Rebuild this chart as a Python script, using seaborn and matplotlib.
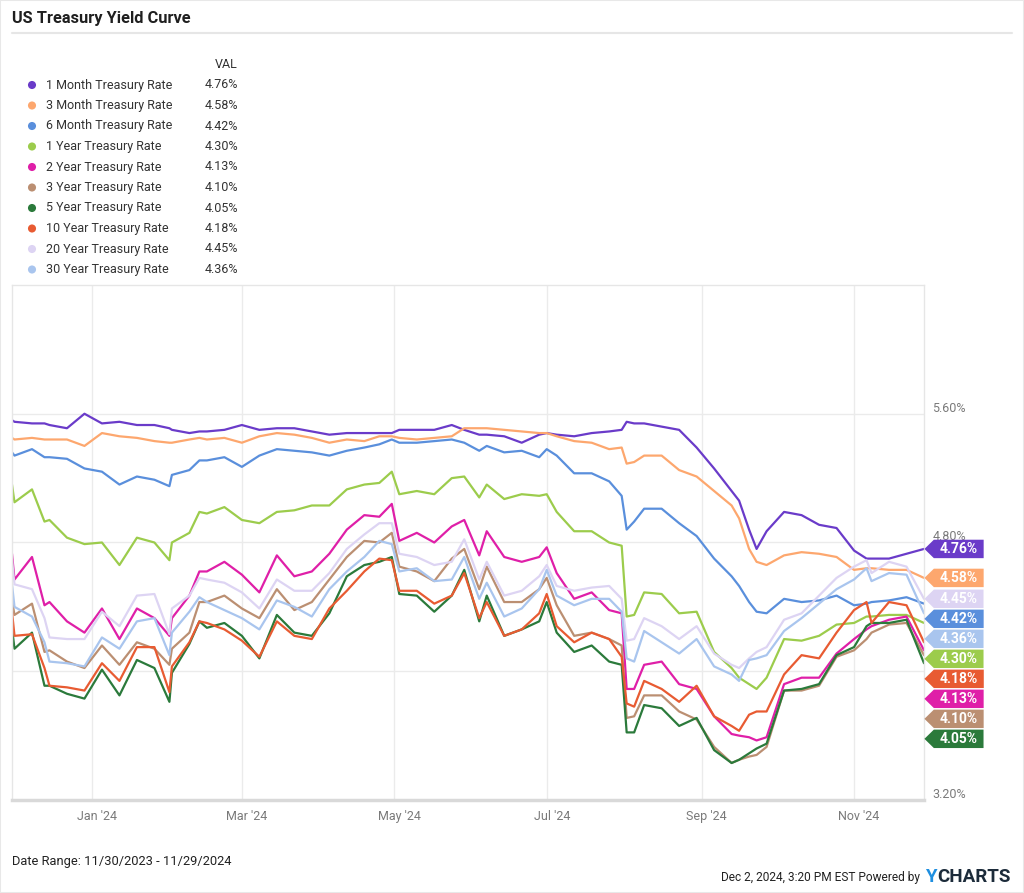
import matplotlib
matplotlib.use("Agg")
import numpy as np
import pandas as pd
import matplotlib.pyplot as plt
import matplotlib.dates as mdates
from matplotlib.transforms import ScaledTranslation, blended_transform_factory
from matplotlib.patches import Rectangle
from matplotlib.path import Path
import seaborn as sns

# ---------------- data ----------------
dates = ["2023-11-30", "2023-12-01", "2023-12-08", "2023-12-13", "2023-12-15", "2023-12-22", "2023-12-29",
         "2024-01-05", "2024-01-12", "2024-01-19", "2024-01-26",
         "2024-02-01", "2024-02-02", "2024-02-09", "2024-02-13", "2024-02-16", "2024-02-23",
         "2024-03-01", "2024-03-08", "2024-03-15", "2024-03-22", "2024-03-29",
         "2024-04-05", "2024-04-12", "2024-04-19", "2024-04-25", "2024-04-30",
         "2024-05-03", "2024-05-10", "2024-05-17", "2024-05-24", "2024-05-29",
         "2024-06-04", "2024-06-07", "2024-06-14", "2024-06-21", "2024-06-28",
         "2024-07-01", "2024-07-05", "2024-07-12", "2024-07-19", "2024-07-26", "2024-07-31",
         "2024-08-02", "2024-08-05", "2024-08-09", "2024-08-16", "2024-08-23", "2024-08-30",
         "2024-09-06", "2024-09-13", "2024-09-16", "2024-09-20", "2024-09-23", "2024-09-27",
         "2024-10-04", "2024-10-11", "2024-10-18", "2024-10-25",
         "2024-11-01", "2024-11-06", "2024-11-08", "2024-11-15", "2024-11-22", "2024-11-29"]

rate_1m = [5.56, 5.55, 5.54, 5.54, 5.53, 5.51, 5.60,
           5.54, 5.55, 5.53, 5.53,
           5.51, 5.50, 5.48, 5.49, 5.49, 5.50,
           5.53, 5.50, 5.51, 5.51, 5.49,
           5.47, 5.48, 5.48, 5.48, 5.48,
           5.50, 5.50, 5.50, 5.53, 5.50,
           5.47, 5.47, 5.46, 5.42, 5.47,
           5.48, 5.47, 5.46, 5.48, 5.49, 5.50,
           5.55, 5.54, 5.54, 5.52, 5.50, 5.39,
           5.26, 5.12, 5.06, 4.88, 4.76, 4.87,
           4.99, 4.97, 4.91, 4.89,
           4.75, 4.70, 4.70, 4.70, 4.73, 4.76]
rate_3m = [5.45, 5.44, 5.45, 5.44, 5.44, 5.44, 5.40,
           5.48, 5.46, 5.45, 5.43,
           5.42, 5.42, 5.44, 5.45, 5.44, 5.45,
           5.42, 5.46, 5.48, 5.47, 5.45,
           5.42, 5.44, 5.43, 5.46, 5.46,
           5.45, 5.44, 5.45, 5.46, 5.51,
           5.51, 5.51, 5.50, 5.49, 5.48,
           5.48, 5.46, 5.43, 5.42, 5.38, 5.39,
           5.29, 5.30, 5.34, 5.34, 5.25, 5.21,
           5.12, 5.03, 4.95, 4.76, 4.68, 4.66,
           4.72, 4.74, 4.73, 4.71,
           4.63, 4.64, 4.64, 4.63, 4.63, 4.58]
rate_6m = [5.36, 5.34, 5.38, 5.33, 5.33, 5.32, 5.26,
           5.24, 5.16, 5.21, 5.19,
           5.15, 5.22, 5.25, 5.31, 5.31, 5.33,
           5.27, 5.34, 5.38, 5.37, 5.36,
           5.34, 5.37, 5.39, 5.41, 5.44,
           5.42, 5.42, 5.43, 5.44, 5.42,
           5.37, 5.40, 5.36, 5.37, 5.33,
           5.38, 5.34, 5.23, 5.23, 5.18, 5.09,
           4.88, 4.93, 5.01, 5.01, 4.92, 4.84,
           4.70, 4.59, 4.53, 4.43, 4.37, 4.36,
           4.45, 4.43, 4.44, 4.47,
           4.41, 4.42, 4.43, 4.44, 4.46, 4.42]
rate_1y = [5.16, 5.05, 5.13, 4.93, 4.94, 4.83, 4.79,
           4.80, 4.66, 4.83, 4.80,
           4.69, 4.80, 4.86, 4.99, 4.98, 5.02,
           4.94, 4.92, 4.99, 5.00, 5.03,
           5.03, 5.13, 5.16, 5.17, 5.24,
           5.10, 5.12, 5.10, 5.20, 5.21,
           5.08, 5.16, 5.07, 5.10, 5.09,
           5.10, 4.99, 4.87, 4.87, 4.80, 4.78,
           4.34, 4.35, 4.49, 4.48, 4.36, 4.37,
           4.12, 4.02, 3.96, 3.92, 3.89, 3.96,
           4.20, 4.19, 4.22, 4.29,
           4.30, 4.34, 4.34, 4.35, 4.35, 4.30]
rate_2y = [4.73, 4.57, 4.71, 4.41, 4.43, 4.31, 4.24,
           4.39, 4.20, 4.39, 4.33,
           4.22, 4.33, 4.47, 4.62, 4.62, 4.68,
           4.60, 4.49, 4.72, 4.59, 4.62,
           4.73, 4.88, 4.97, 4.96, 5.04,
           4.81, 4.86, 4.80, 4.90, 4.94,
           4.72, 4.87, 4.71, 4.68, 4.71,
           4.77, 4.61, 4.45, 4.49, 4.38, 4.36,
           3.89, 3.89, 4.04, 4.06, 3.92, 3.89,
           3.72, 3.61, 3.60, 3.59, 3.57, 3.59,
           3.92, 3.96, 3.96, 4.11,
           4.20, 4.26, 4.28, 4.32, 4.34, 4.13]
rate_3y = [4.44, 4.35, 4.42, 4.12, 4.13, 4.06, 4.02,
           4.16, 4.04, 4.18, 4.14,
           4.04, 4.14, 4.24, 4.43, 4.43, 4.47,
           4.39, 4.33, 4.51, 4.38, 4.43,
           4.57, 4.71, 4.81, 4.80, 4.86,
           4.65, 4.62, 4.56, 4.70, 4.76,
           4.51, 4.65, 4.43, 4.43, 4.51,
           4.58, 4.41, 4.22, 4.24, 4.20, 4.16,
           3.71, 3.72, 3.85, 3.85, 3.75, 3.70,
           3.53, 3.43, 3.45, 3.47, 3.48, 3.53,
           3.88, 3.88, 3.91, 4.09,
           4.13, 4.20, 4.24, 4.29, 4.30, 4.10]
rate_5y = [4.27, 4.14, 4.24, 3.91, 3.91, 3.86, 3.83,
           4.01, 3.85, 4.07, 4.02,
           3.81, 3.99, 4.17, 4.31, 4.27, 4.30,
           4.22, 4.08, 4.35, 4.24, 4.22,
           4.36, 4.59, 4.66, 4.68, 4.71,
           4.48, 4.47, 4.37, 4.47, 4.63,
           4.31, 4.47, 4.22, 4.26, 4.31,
           4.43, 4.24, 4.12, 4.16, 4.06, 4.04,
           3.62, 3.62, 3.79, 3.77, 3.66, 3.71,
           3.51, 3.43, 3.45, 3.49, 3.52, 3.55,
           3.88, 3.89, 3.92, 4.10,
           4.15, 4.28, 4.30, 4.30, 4.32, 4.05]
rate_10y = [4.37, 4.22, 4.23, 4.02, 3.91, 3.90, 3.88,
            4.05, 3.94, 4.15, 4.15,
            3.87, 4.03, 4.18, 4.31, 4.30, 4.26,
            4.19, 4.09, 4.31, 4.22, 4.20,
            4.39, 4.50, 4.62, 4.70, 4.69,
            4.50, 4.50, 4.42, 4.47, 4.61,
            4.33, 4.43, 4.22, 4.26, 4.36,
            4.48, 4.28, 4.18, 4.24, 4.20, 4.09,
            3.80, 3.78, 3.94, 3.89, 3.81, 3.91,
            3.72, 3.66, 3.63, 3.73, 3.75, 3.75,
            3.98, 4.10, 4.08, 4.24,
            4.38, 4.43, 4.30, 4.43, 4.41, 4.18]
rate_20y = [4.69, 4.54, 4.51, 4.33, 4.21, 4.20, 4.20,
            4.37, 4.28, 4.47, 4.48,
            4.23, 4.39, 4.47, 4.58, 4.57, 4.55,
            4.49, 4.39, 4.57, 4.50, 4.50,
            4.61, 4.76, 4.85, 4.92, 4.92,
            4.73, 4.71, 4.66, 4.68, 4.82,
            4.57, 4.68, 4.47, 4.50, 4.59,
            4.66, 4.53, 4.50, 4.52, 4.53, 4.45,
            4.19, 4.20, 4.33, 4.28, 4.20, 4.28,
            4.11, 4.04, 4.02, 4.08, 4.12, 4.15,
            4.32, 4.36, 4.47, 4.58,
            4.65, 4.69, 4.61, 4.68, 4.65, 4.45]
rate_30y = [4.54, 4.40, 4.34, 4.18, 4.06, 4.05, 4.03,
            4.21, 4.14, 4.31, 4.33,
            4.10, 4.24, 4.37, 4.46, 4.43, 4.38,
            4.33, 4.26, 4.44, 4.40, 4.34,
            4.51, 4.62, 4.71, 4.81, 4.79,
            4.62, 4.64, 4.56, 4.57, 4.71,
            4.45, 4.55, 4.34, 4.39, 4.51,
            4.63, 4.47, 4.41, 4.45, 4.45, 4.37,
            4.08, 4.06, 4.25, 4.18, 4.11, 4.20,
            4.03, 3.98, 3.94, 4.07, 4.08, 4.10,
            4.25, 4.33, 4.42, 4.51,
            4.57, 4.64, 4.56, 4.61, 4.60, 4.36]

series_names = ["1 Month Treasury Rate", "3 Month Treasury Rate", "6 Month Treasury Rate",
                "1 Year Treasury Rate", "2 Year Treasury Rate", "3 Year Treasury Rate",
                "5 Year Treasury Rate", "10 Year Treasury Rate", "20 Year Treasury Rate",
                "30 Year Treasury Rate"]
series_values = [rate_1m, rate_3m, rate_6m, rate_1y, rate_2y, rate_3y,
                 rate_5y, rate_10y, rate_20y, rate_30y]
series_colors = ["#6a3bc9", "#fda76e", "#5a8fdc", "#9ccc4c", "#df1fa8",
                 "#bb8f72", "#2b7a3b", "#e85b32", "#ddd4f3", "#a9c5ee"]

y_ticks = [3.2, 4.0, 4.8, 5.6]
y_tick_labels = ["3.20%", "", "4.80%", "5.60%"]   # 4.00% is hidden behind the flags
x_tick_months = [1, 3, 5, 7, 9, 11]

# ---------------- style ----------------
sns.set_theme(style="white")
plt.rcParams["font.family"] = ["Roboto", "DejaVu Sans"]

W, H = 1024, 893
fig = plt.figure(figsize=(W / 100, H / 100), dpi=100)
fig.patch.set_facecolor("white")

frames = []
for name, vals in zip(series_names, series_values):
    frames.append(pd.DataFrame({"date": pd.to_datetime(dates), "value": vals, "series": name}))
df = pd.concat(frames, ignore_index=True)

# ---- main axes (plot area 12..924 x 285..800 px) ----
ax = fig.add_axes([12 / W, (H - 800) / H, (924 - 12) / W, (800 - 285) / H])
sns.lineplot(data=df, x="date", y="value", hue="series", hue_order=series_names,
             palette=series_colors, legend=False, linewidth=1.6, estimator=None,
             sort=False, ax=ax)

ax.set_xlim(pd.Timestamp(dates[0]), pd.Timestamp(dates[-1]))
ax.set_ylim(3.2, 6.4)
ax.set_xlabel("")
ax.set_ylabel("")

ax.xaxis.set_major_locator(mdates.MonthLocator(bymonth=x_tick_months))
ax.xaxis.set_major_formatter(mdates.DateFormatter("%b '%y"))
ax.set_yticks(y_ticks)
ax.set_yticklabels(y_tick_labels)
ax.yaxis.tick_right()
ax.tick_params(axis="both", length=0, labelsize=9, labelcolor="#7a7a7a")
ax.tick_params(axis="x", pad=7)
ax.tick_params(axis="y", pad=6)
for lab in ax.get_xticklabels():
    lab.set_transform(lab.get_transform() + ScaledTranslation(5 / 100, 0, fig.dpi_scale_trans))
for lab in ax.get_yticklabels():
    lab.set_transform(lab.get_transform() + ScaledTranslation(0, 7 / 100, fig.dpi_scale_trans))

ax.grid(True, color="#ebebeb", linewidth=1)
ax.set_axisbelow(True)
for s in ["left", "top", "right"]:
    ax.spines[s].set_color("#e6e6e6")
    ax.spines[s].set_linewidth(1)
ax.spines["bottom"].set_color("#d9d9d9")
ax.spines["bottom"].set_linewidth(2.5)


# ---- end-of-line value flags (pentagon with left point) ----
def flag_box(x0, y0, width, height, mutation_size):
    px = 0.42 * mutation_size
    py = 0.16 * mutation_size
    tip = 0.68 * mutation_size
    l, r = x0 - px, x0 + width + px
    b, t = y0 - py, y0 + height + py
    verts = [(l - tip, (b + t) / 2), (l, b), (r, b), (r, t), (l, t), (l - tip, (b + t) / 2)]
    return Path(verts, closed=True)


blend = blended_transform_factory(ax.transAxes, ax.transData)
px_per_unit = (800 - 285) / (6.4 - 3.2)
gap = 20 / px_per_unit
last_vals = [v[-1] for v in series_values]
order = np.argsort(last_vals)[::-1]
prev = None
for i in order:
    yv = last_vals[i]
    if prev is not None:
        yv = min(yv, prev - gap)
    prev = yv
    ax.annotate(f"{last_vals[i]:.2f}%", xy=(1.0, yv), xycoords=blend,
                xytext=(11.3, 0), textcoords="offset points", ha="left", va="center",
                fontsize=10, fontweight="bold", color="white", zorder=7,
                annotation_clip=False,
                bbox=dict(boxstyle=flag_box, fc=series_colors[i], ec="none"))

# ---- overlay axes in pixel coordinates for title, legend and footer ----
ov = fig.add_axes([0, 0, 1, 1], zorder=-1)
ov.set_xlim(0, W)
ov.set_ylim(H, 0)
ov.axis("off")

ov.text(12, 19, "US Treasury Yield Curve", fontsize=11.8, fontweight="bold",
        color="#1f1f1f", va="center", ha="left")
ov.plot([12, 1012], [33, 33], color="#e6e6e6", linewidth=1.5)

row0, row_step = 85, 20.5
ov.text(238, 65, "VAL", fontsize=9, color="#333333", ha="right", va="center")
for k, (name, vals, c) in enumerate(zip(series_names, series_values, series_colors)):
    yy = row0 + k * row_step
    ov.scatter([32], [yy], s=34, color=c, edgecolors="none")
    ov.text(46, yy, name, fontsize=9, color="#333333", ha="left", va="center")
    ov.text(238, yy, f"{vals[-1]:.2f}%", fontsize=9, color="#333333", ha="right", va="center")

ov.text(12, 862, f"Date Range: {pd.Timestamp(dates[0]):%m/%d/%Y} - {pd.Timestamp(dates[-1]):%m/%d/%Y}",
        fontsize=9.3, color="#222222", ha="left", va="center")
ov.text(920, 877, "Dec 2, 2024, 3:20 PM EST Powered by", fontsize=8.6, color="#222222",
        ha="right", va="center")
ov.text(925, 877, "Y", fontsize=13.5, fontweight="bold", color="#1e8fe0", ha="left", va="center")
ov.text(937, 877, "CHARTS", fontsize=13.5, fontweight="bold", color="#1c2b3a", ha="left", va="center")

fig.patches.append(Rectangle((0, 0), 1, 1, transform=fig.transFigure, fill=False,
                             edgecolor="#e8e8e8", linewidth=1.5))

fig.savefig("out.png", dpi=100, facecolor="white")
